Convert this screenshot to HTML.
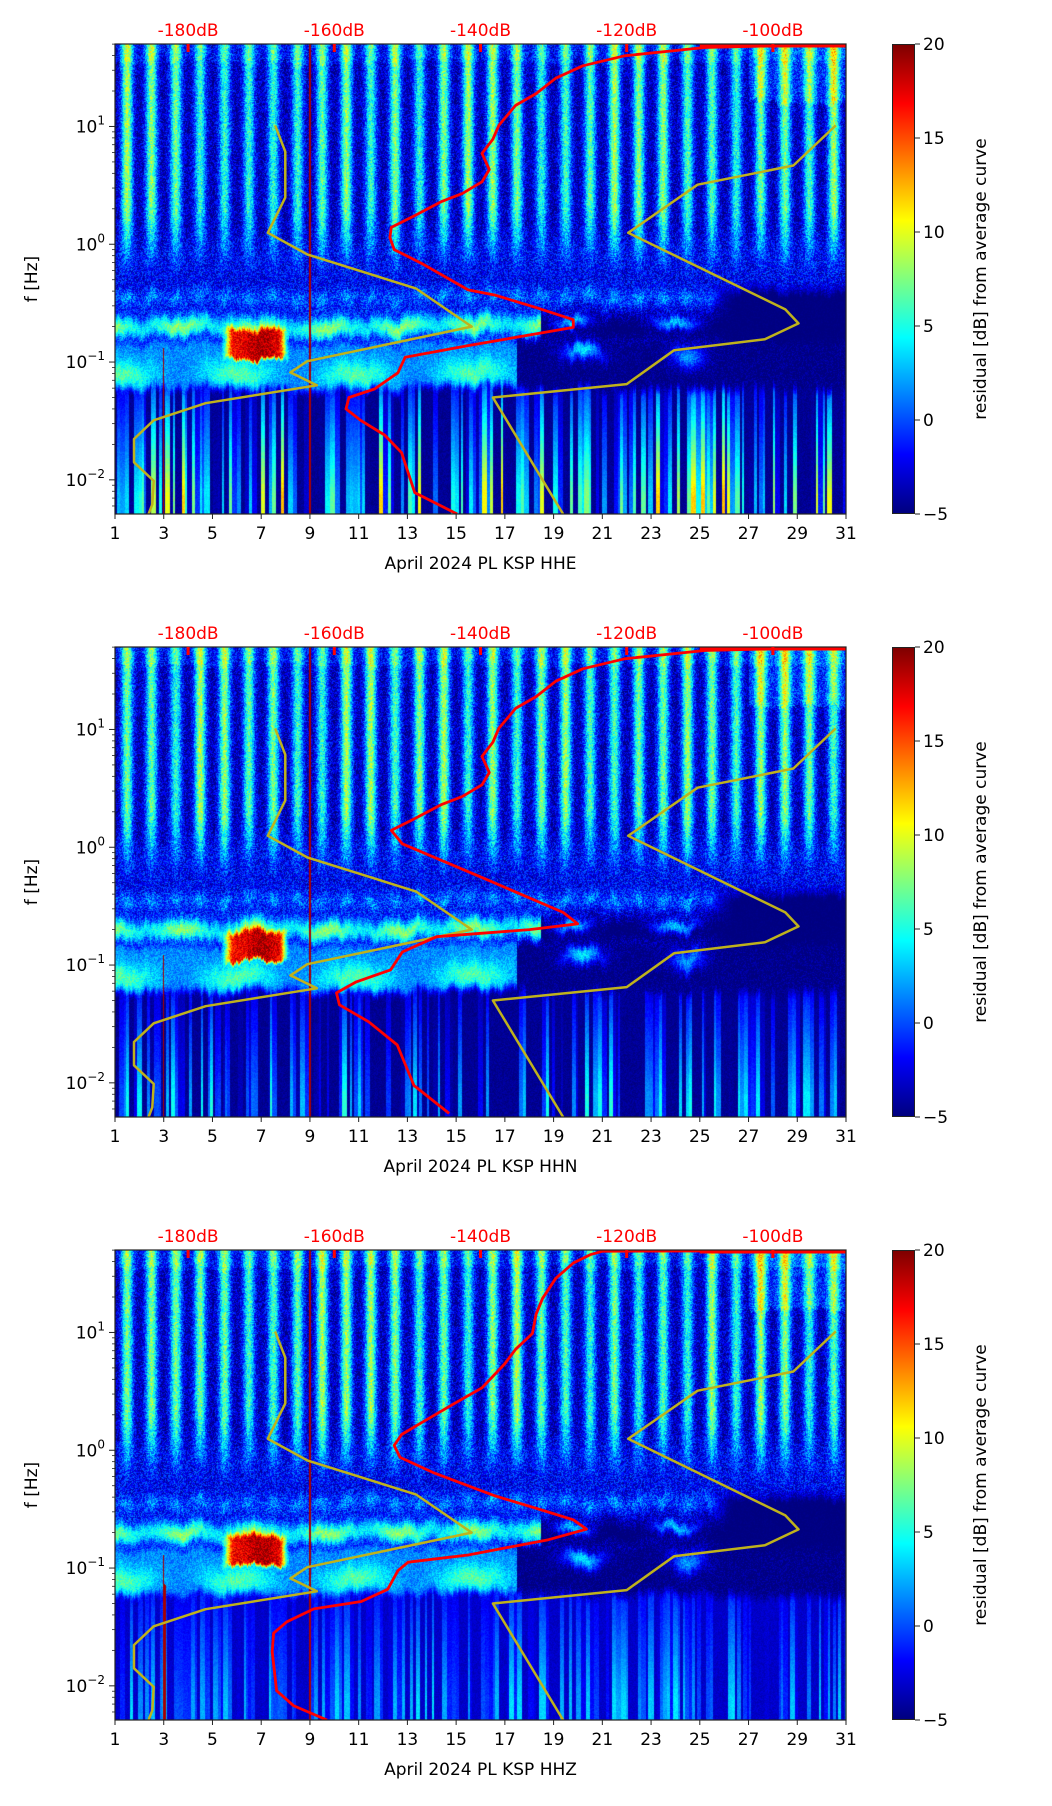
<!DOCTYPE html>
<html><head><meta charset="utf-8">
<style>
body{margin:0;background:#fff;width:1052px;height:1806px;position:relative;overflow:hidden;font-family:"DejaVu Sans","Liberation Sans",sans-serif}
canvas{position:absolute}
svg{position:absolute;left:0;top:0}
.cb{position:absolute;width:23px;height:470px;background:linear-gradient(to top,#00007f 0%,#0000ff 12.5%,#00ffff 37.5%,#ffff00 62.5%,#ff0000 87.5%,#7f0000 100%);box-sizing:border-box;border:1px solid #222}
</style></head>
<body>
<canvas id="hm0" width="731" height="470" style="left:115px;top:44px"></canvas>
<canvas id="hm1" width="731" height="470" style="left:115px;top:647px"></canvas>
<canvas id="hm2" width="731" height="470" style="left:115px;top:1250px"></canvas>
<div class="cb" style="left:892px;top:44px"></div>
<div class="cb" style="left:892px;top:647px"></div>
<div class="cb" style="left:892px;top:1250px"></div>
<svg id="ov" width="1052" height="1806"></svg>
<script>
// ---- data ----
const dayTicks=[1,3,5,7,9,11,13,15,17,19,21,23,25,27,29,31];
const dbTicks=[-180,-160,-140,-120,-100];
const cbTicks=[20,15,10,5,0,-5];
const yDecades=[1,0,-1,-2];
const channels=["HHE","HHN","HHZ"];
const redDb0=[-143.2,-149,-150.8,-153.1,-156.4,-158.4,-158,-154.5,-151.3,-150.3,-141.7,-127.3,-127.3,-132.4,-138,-141.7,-148.1,-151.8,-152.4,-152.2,-149,-145.3,-142.5,-139.8,-138.8,-139.8,-138.3,-137.5,-135.2,-132.4,-129.7,-126,-120.3,-109.3,-99.3,-90];
const redHz0=[0.005,0.0078,0.017,0.024,0.032,0.040,0.050,0.059,0.081,0.11,0.138,0.197,0.229,0.29,0.37,0.41,0.69,0.90,1.14,1.39,1.75,2.31,2.69,3.39,4.31,5.9,7.8,10.2,15.1,19,25.7,32.7,39.8,46.8,48.4,49];
const redDb1=[-144.3,-149.1,-151.4,-155.3,-159.3,-159.7,-157,-152.3,-150.7,-146,-133.3,-126.7,-128.7,-139.7,-150.7,-152.2,-149,-145.3,-142.5,-139.8,-138.8,-139.8,-138.3,-137.5,-135.2,-132.4,-129.7,-126,-120.3,-109.3,-99.3,-90];
const redHz1=[0.0055,0.0095,0.021,0.033,0.046,0.058,0.072,0.091,0.129,0.174,0.2,0.224,0.28,0.55,1.07,1.39,1.75,2.31,2.69,3.39,4.31,5.9,7.8,10.2,15.1,19,25.7,32.7,39.8,46.8,48.4,49];
const redDb2=[-161,-165.6,-167.9,-168.5,-168.3,-166.5,-162.8,-156.3,-152.7,-151.3,-149.9,-141.7,-130.7,-125.5,-127.3,-132.3,-138,-146.3,-151,-151.8,-150.8,-148.1,-143.5,-139.8,-136.7,-135.2,-132.9,-132.4,-131.5,-129.7,-127.3,-125,-123.3,-90];
const redHz2=[0.005,0.0068,0.0091,0.0195,0.028,0.035,0.045,0.052,0.066,0.095,0.112,0.129,0.174,0.214,0.257,0.32,0.41,0.64,0.87,1.1,1.36,1.71,2.51,3.39,5.4,7.2,9.8,14.3,19.5,28.8,38.9,45.7,49,49.5];
const nlnmDb=[-168.1,-166.7,-166.7,-169.1,-163.7,-148.8,-141.2,-163.7,-166,-162.4,-177.6,-184.7,-187.4,-187.4,-184.7,-184.9,-185.4];
const nlnmHz=[10.2,6.1,2.5,1.25,0.82,0.42,0.2,0.1016,0.0817,0.0635,0.0447,0.032,0.0222,0.0141,0.0098,0.0062,0.0048];
const nhnmDb=[-91.4,-97.2,-110.3,-119.8,-98.3,-96.5,-101.1,-113.5,-120,-138.3,-128.7];
const nhnmHz=[10.2,4.66,3.2,1.25,0.28,0.213,0.156,0.126,0.065,0.05,0.0048];
const redDbs=[redDb0,redDb1,redDb2], redHzs=[redHz0,redHz1,redHz2];

// ---- layout ----
const L=115,W=731,H=470,tops=[44,647,1250];
const LMAX=1.70,LMIN=-2.29;
const xS=d=>L+(d-1)/30*W;
const dbS=db=>xS(4+(db+180)*0.3);
const yS=(p,hz)=>tops[p]+(LMAX-Math.log10(hz))/(LMAX-LMIN)*H;
const cbY=(p,v)=>tops[p]+(20-v)/25*H;

// ---- heatmap texture ----
function jet(t){t=Math.max(0,Math.min(1,t));const c=x=>Math.round(255*Math.max(0,Math.min(1,1.5-Math.abs(4*t-x))));return [c(3),c(2),c(1)];}
let seed=12345;function rnd(){seed=(seed*1103515245+12345)%2147483648;return seed/2147483648;}
const sm=(a,b,x)=>{const t=Math.max(0,Math.min(1,(x-a)/(b-a)));return t*t*(3-2*t);};
const g=(x,c,w)=>Math.exp(-Math.pow((x-c)/w,2));
function drawHM(p){
 const cv=document.getElementById('hm'+p),ctx=cv.getContext('2d');
 const img=ctx.createImageData(W,H),D=img.data;
 const colR=[];let cur=0,cw=3;for(let x=0;x<W;x++){if(--cw<=0){cur=rnd();cw=2+Math.floor(rnd()*4);}colR.push(cur);}
 const jit=[];let j=0;for(let x=0;x<W;x++){j=0.85*j+0.15*(rnd()-0.5);jit.push(j*0.25);}
 const dayAmp=[];for(let d=0;d<32;d++)dayAmp.push(0.85+0.35*rnd());
 for(let y=0;y<H;y++){
  const lf0=LMAX-(y+0.5)/H*(LMAX-LMIN);
  for(let x=0;x<W;x++){
   const lf=lf0+jit[x];
   const day=1+(x+0.5)/W*30,fr=day-Math.floor(day),di=Math.floor(day);
   const s=g(fr,0.5,0.24)*dayAmp[di];
   const n=rnd()-0.5;
   const k=sm(-0.35,0.35,lf);
   let v=-3.6+k*(10.5*s-0.3)+n*5.5+(lf>1.2&&day>27?2.5:0)+(lf>1.55?1.5:0);
   const mid=sm(-0.7,-0.5,lf)*(1-sm(-0.1,0.2,lf));
   v+=mid*(1.5+2.5*g(lf,-0.45,0.07)*(0.6+s));
   // microseism band
   const ms=g(lf,-0.7,0.1);
   let msv=day<18.5?6+2*Math.sin(day*2.1):-6+10*(g(day,19.8,0.8)+g(day,24,1.0))*g(lf,-0.66,0.07);
   v=v*(1-ms)+(msv+n*3)*ms;
   // dark upper-right wedge
   const dk=sm(25,26.5,day)*sm(-0.3,-0.45,lf);
   v=v*(1-dk)+(-5+n*0.6)*dk;
   // secondary band around 0.08 Hz
   if(lf<-0.78&&lf>-1.3){
     const sb=day<17.5?(1.5+2.5*g(lf,-1.1,0.12)*(1+Math.sin(day*1.3))):(-5+9*g(day,20.2,0.8)*g(lf,-0.92,0.08)+7*g(day,24.5,0.7)*g(lf,-0.95,0.1));
     const w=sm(-1.3,-1.2,lf)*sm(-0.78,-0.88,lf);
     v=v*(1-w)+(sb+n*3)*w;
   }
   // red blob
   const rb=sm(5.3,5.9,day)*sm(8.2,7.7,day)*sm(-1.0,-0.95,lf)*sm(-0.68,-0.75,lf);
   v=v*(1-rb)+(17+n*4+2*g(day,7,0.6))*rb;
   // low frequency streaks
   if(lf<-1.15){
     const amp=[17,10,7][p],base=[-4.5,-4.5,-3.2][p],th=[0.4,0.45,0.35][p];
     let st=colR[x]>th?(colR[x]-th)/(1-th)*amp:0;
     st*=Math.min(1,0.35+(-1.2-lf)*0.7);
     const w=sm(-1.15,-1.3,lf);
     v=v*(1-w)+(base+st+n*1.2)*w;
     if(p==2&&day>2.95&&day<3.1) v=19;
   }
   if(Math.abs(day-9)<0.03||(Math.abs(day-3)<0.03&&lf<-0.9)) v=19;
   const c=jet((v+5)/25),i=(y*W+x)*4;
   D[i]=c[0];D[i+1]=c[1];D[i+2]=c[2];D[i+3]=255;
  }
 }
 ctx.putImageData(img,0,0);
}
[0,1,2].forEach(drawHM);

// ---- svg overlay ----
const NS="http://www.w3.org/2000/svg",svg=document.getElementById('ov');
function mk(tag,attrs,txt){const e=document.createElementNS(NS,tag);for(const k in attrs)e.setAttribute(k,attrs[k]);if(txt!==undefined)e.textContent=txt;svg.appendChild(e);return e;}
function poly(p,dbs,hzs,color,w,name){
 const pts=dbs.map((d,i)=>dbS(d).toFixed(1)+","+Math.max(tops[p],Math.min(tops[p]+H,yS(p,hzs[i]))).toFixed(1)).join(" ");
 const e=mk('polyline',{points:pts,fill:'none',stroke:color,'stroke-width':w,'stroke-linejoin':'round','clip-path':'url(#clip'+p+')'});
 
 
}
for(let p=0;p<3;p++){
 const T=tops[p],B=T+H;
 const cp=mk('clipPath',{id:'clip'+p});cp.appendChild(mk('rect',{x:L,y:T,width:W,height:H}));
 poly(p,nlnmDb,nlnmHz,'#bfb21c',2.5,'nlnm-curve');
 poly(p,nhnmDb,nhnmHz,'#bfb21c',2.5,'nhnm-curve');
 poly(p,redDbs[p],redHzs[p],'#ff0000',2.8,'mean-psd-curve');
 const topLine=mk('line',{x1:dbS(-110),y1:T+2,x2:L+W,y2:T+2,stroke:'#ff0000','stroke-width':3});
 
 
 const fr=mk('rect',{x:L,y:T,width:W,height:H,fill:'none',stroke:'#222','stroke-width':1.2});
 
 
 dayTicks.forEach(d=>{
  mk('line',{x1:xS(d),y1:B,x2:xS(d),y2:B+5,stroke:'#222','stroke-width':1});
  const t=mk('text',{x:xS(d),y:B+25,'text-anchor':'middle','font-size':17,fill:'#000'},String(d));
  
  
 });
 dbTicks.forEach(db=>{
  mk('line',{x1:dbS(db),y1:T,x2:dbS(db),y2:T+8,stroke:'#ff0000','stroke-width':3});
  const t=mk('text',{x:dbS(db),y:T-8,'text-anchor':'middle','font-size':17,fill:'#ff0000'},db+'dB');
  
  
 });
 yDecades.forEach(e=>{
  const y=yS(p,Math.pow(10,e));
  mk('line',{x1:L-6,y1:y,x2:L,y2:y,stroke:'#222','stroke-width':1});
  const t=mk('text',{x:L-10,y:y+6,'text-anchor':'end','font-size':17,fill:'#000'});
  
  
  const a=document.createElementNS(NS,'tspan');a.textContent='10';t.appendChild(a);
  const b=document.createElementNS(NS,'tspan');b.setAttribute('dy','-8');b.setAttribute('font-size','12');b.textContent=e<0?'\u2212'+(-e):String(e);t.appendChild(b);
 });
 for(let e=-3;e<=1;e++)for(let m=2;m<=9;m++){const hz=m*Math.pow(10,e),y=yS(p,hz);if(y>=T&&y<=B)mk('line',{x1:L-3,y1:y,x2:L,y2:y,stroke:'#222','stroke-width':0.8});}
 const xl=mk('text',{x:L+W/2,y:B+55,'text-anchor':'middle','font-size':17,fill:'#000'},'April 2024 PL KSP  '+channels[p]);
 
 
 const yl=mk('text',{x:0,y:0,transform:'translate(37,'+(T+H/2)+') rotate(-90)','text-anchor':'middle','font-size':17,fill:'#000'},'f [Hz]');
 
 
 cbTicks.forEach(v=>{
  const y=cbY(p,v);
  mk('line',{x1:915,y1:y,x2:920,y2:y,stroke:'#222','stroke-width':1});
  const t=mk('text',{x:923,y:y+6,'font-size':17,fill:'#000'},v<0?'\u2212'+(-v):String(v));
  
  
 });
 const cl=mk('text',{x:0,y:0,transform:'translate(986,'+(T+H/2)+') rotate(-90)','text-anchor':'middle','font-size':17,fill:'#000'},'residual [dB] from average curve');
 
 
}
</script>
</body></html>
